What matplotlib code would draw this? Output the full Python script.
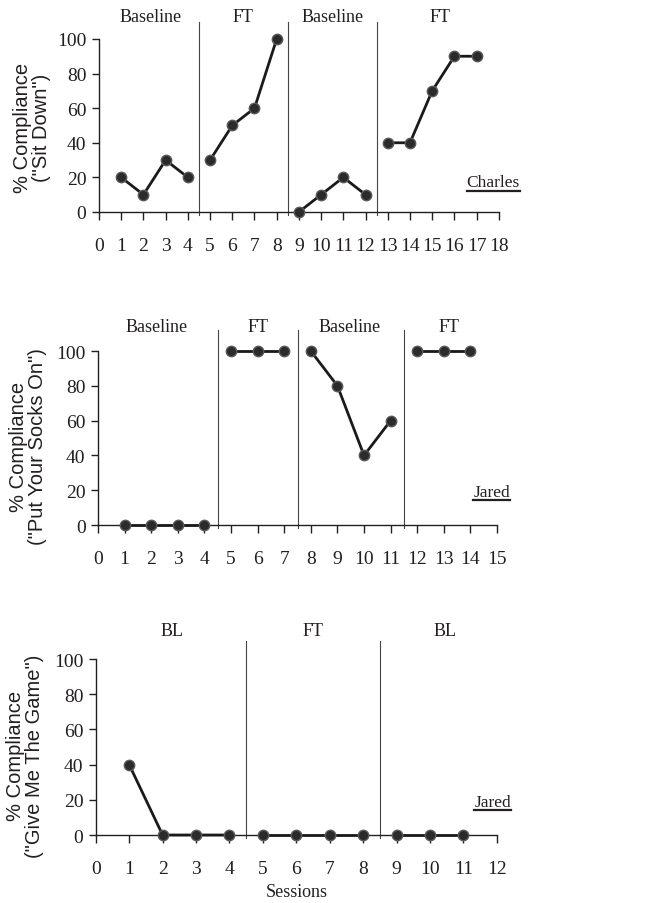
import numpy as np
import matplotlib
matplotlib.use("Agg")
import matplotlib.pyplot as plt
from matplotlib.lines import Line2D

# Charles - "Sit Down"
p1_sessions = [[1, 2, 3, 4], [5, 6, 7, 8], [9, 10, 11, 12], [13, 14, 15, 16, 17]]
p1_values = [[20, 10, 30, 20], [30, 50, 60, 100], [0, 10, 20, 10], [40, 40, 70, 90, 90]]
p1_phases = ["Baseline", "FT", "Baseline", "FT"]
p1_label_x = [2.3, 6.5, 10.5, 15.35]
p1_changes = [4.5, 8.5, 12.5]

# Jared - "Put Your Socks On"
p2_sessions = [[1, 2, 3, 4], [5, 6, 7], [8, 9, 10, 11], [12, 13, 14]]
p2_values = [[0, 0, 0, 0], [100, 100, 100], [100, 80, 40, 60], [100, 100, 100]]
p2_phases = ["Baseline", "FT", "Baseline", "FT"]
p2_label_x = [2.2, 6.0, 9.45, 13.2]
p2_changes = [4.5, 7.5, 11.5]

# Jared - "Give Me The Game"
p3_sessions = [[1, 2, 3, 4], [5, 6, 7, 8], [9, 10, 11]]
p3_values = [[40, 0, 0, 0], [0, 0, 0, 0], [0, 0, 0]]
p3_phases = ["BL", "FT", "BL"]
p3_label_x = [2.27, 6.5, 10.45]
p3_changes = [4.5, 8.5]

serif = "Liberation Serif"
sans = "Liberation Sans"
ink = "#231f20"

fig = plt.figure(figsize=(6.47, 9.04), dpi=100)

panels = [
    dict(rect=[0.153, 0.7644, 0.618, 0.1914], xmax=18, sessions=p1_sessions, values=p1_values,
         phases=p1_phases, label_x=p1_label_x, changes=p1_changes, line_top=110, label_y=113,
         ylabel='% Compliance\n("Sit Down")', ylab_pos=(-0.1675, 0.494),
         name="Charles", name_pos=(1.0525, 0.150)),
    dict(rect=[0.1515, 0.4181, 0.6167, 0.1925], xmax=15, sessions=p2_sessions, values=p2_values,
         phases=p2_phases, label_x=p2_label_x, changes=p2_changes, line_top=112, label_y=114,
         ylabel='% Compliance\n("Put Your Socks On")', ylab_pos=(-0.175, 0.454),
         name="Jared", name_pos=(1.0326, 0.167)),
    dict(rect=[0.148, 0.0752, 0.620, 0.1947], xmax=12, sessions=p3_sessions, values=p3_values,
         phases=p3_phases, label_x=p3_label_x, changes=p3_changes, line_top=110, label_y=116,
         ylabel='% Compliance\n("Give Me The Game")', ylab_pos=(-0.177, 0.455),
         name="Jared", name_pos=(1.035, 0.165)),
]

name_texts = []
for i, p in enumerate(panels):
    ax = fig.add_axes(p["rect"])
    for xs, ys in zip(p["sessions"], p["values"]):
        ax.plot(xs, ys, color="#1a1a1a", lw=2.0, marker="o", ms=7.5,
                mfc="#2b2b2b", mec="#5a5a5a", mew=1.0, clip_on=False, zorder=3)
    for c in p["changes"]:
        ax.plot([c, c], [-1.5, p["line_top"]], color="#444444", lw=0.8, clip_on=False, zorder=2)
    for lab, lx in zip(p["phases"], p["label_x"]):
        ax.text(lx, p["label_y"], lab, ha="center", va="center", fontsize=13,
                family=serif, color=ink)
    ax.set_xlim(0, p["xmax"])
    ax.set_ylim(0, 100)
    ax.set_xticks(np.arange(0, p["xmax"] + 1))
    ax.set_yticks(np.arange(0, 101, 20))
    for s in ["top", "right"]:
        ax.spines[s].set_visible(False)
    for s in ["left", "bottom"]:
        ax.spines[s].set_linewidth(1.0)
        ax.spines[s].set_color(ink)
    ax.tick_params(axis="x", direction="out", length=6, width=1, pad=12, colors=ink)
    ax.tick_params(axis="y", direction="out", length=5, width=1, pad=4, colors=ink)
    for t in ax.get_xticklabels() + ax.get_yticklabels():
        t.set_family(serif)
        t.set_fontsize(14)
    ax.text(p["ylab_pos"][0], p["ylab_pos"][1], p["ylabel"], transform=ax.transAxes,
            rotation=90, ha="center", va="center", multialignment="center",
            fontsize=14.5, family=sans, color=ink, linespacing=1.0)
    nt = ax.text(p["name_pos"][0], p["name_pos"][1], p["name"], transform=ax.transAxes,
                 ha="right", va="baseline", fontsize=12.5, family=serif, color=ink)
    name_texts.append(nt)
    if i == 2:
        ax.set_xlabel("Sessions", fontsize=13, family=serif, color=ink, labelpad=4)

# underline the participant names
fig.canvas.draw()
r = fig.canvas.get_renderer()
for nt in name_texts:
    bb = nt.get_window_extent(renderer=r).transformed(fig.transFigure.inverted())
    y = bb.y0 - 0.5 / 904
    fig.add_artist(Line2D([bb.x0, bb.x1], [y, y], transform=fig.transFigure,
                          color=ink, lw=1.6))

fig.savefig("out.png", dpi=100)
